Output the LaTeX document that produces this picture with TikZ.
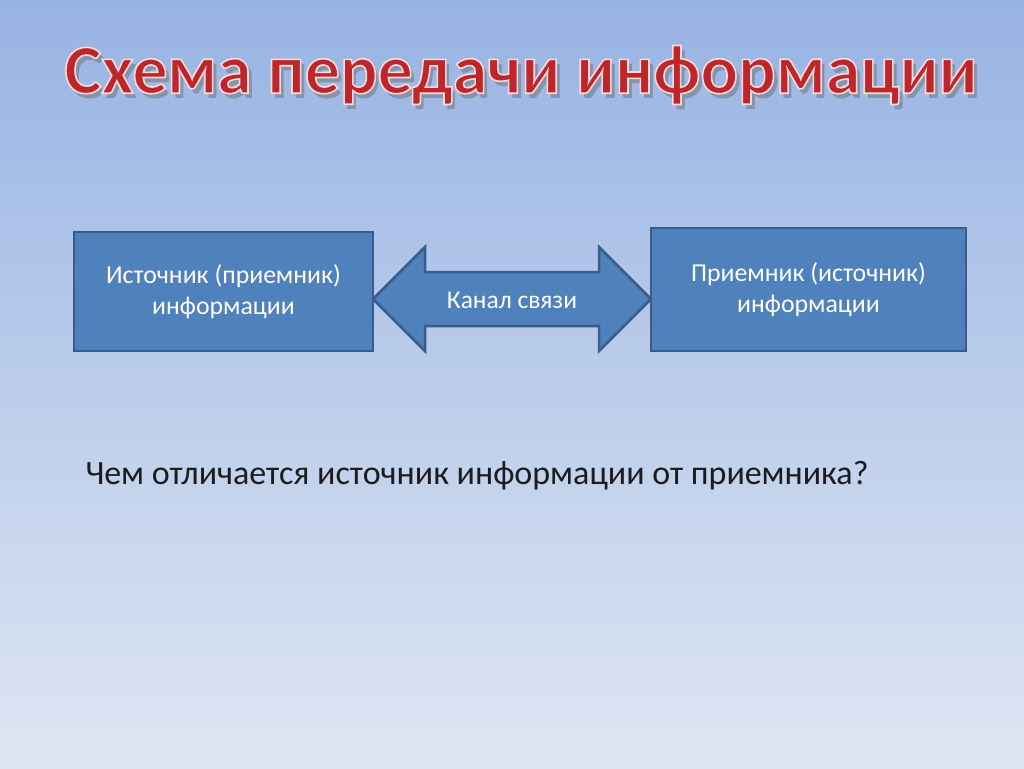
\documentclass[tikz,border=0pt]{standalone}
\usepackage{fontspec}
\setmainfont{Carlito}
\definecolor{bgtop}{HTML}{97B3E3}
\definecolor{bgmid}{HTML}{BACBEB}
\definecolor{bgbot}{HTML}{DFE6F3}
\definecolor{boxfill}{HTML}{4F81BD}
\definecolor{boxline}{HTML}{385D8A}
\definecolor{titlered}{HTML}{BE262B}
\definecolor{qtext}{HTML}{1C1C1C}
\tikzset{
  box/.style={draw=boxline, line width=2.5pt, fill=boxfill, text=white, font=\fontsize{25.8}{31}\selectfont, align=center},
  arrowshape/.style={draw=boxline, line width=2.5pt, fill=boxfill},
  chtext/.style={text=white, font=\fontsize{25.5}{30}\selectfont},
  titlefont/.style={font=\fontsize{70}{76}\bfseries\selectfont},
}
\newcommand{\ttl}{Схема передачи информации}
\newcommand{\outlined}[1]{\special{pdf:literal direct 0.97 0.86 0.86 RG 1.6 w 2 Tr}#1\special{pdf:literal direct 0 Tr}}
\begin{document}
\begin{tikzpicture}[x=1pt,y=-1pt]
\useasboundingbox (0,0) rectangle (1024,768);
\shade[top color=bgtop, middle color=bgmid, bottom color=bgbot] (0,0) rectangle (1024,768);
% title: shadow, then outlined red text
\node[titlefont, text=black!60, opacity=0.45] (titleshadow) at (525,80) {\ttl};
\node[titlefont, text=titlered] (title) at (521,75) {\outlined{\ttl}};
% boxes
\node[box, minimum width=299pt, minimum height=119pt] (src) at (223.5,291.5) {Источник (приемник)\\информации};
\node[box, minimum width=315pt, minimum height=123pt] (dst) at (808.5,289.5) {Приемник (источник)\\информации};
% double arrow
\draw[arrowshape] (373,299) -- (425,247) -- (425,272) -- (599,272) -- (599,247) -- (651,299)
  -- (599,351) -- (599,326) -- (425,326) -- (425,351) -- cycle;
\node[chtext] (ch) at (512,300) {Канал связи};
% question
\node[text=qtext, font=\fontsize{34}{40}\selectfont, anchor=west] (q) at (82,476) {Чем отличается источник информации от приемника?};
\end{tikzpicture}
\end{document}
